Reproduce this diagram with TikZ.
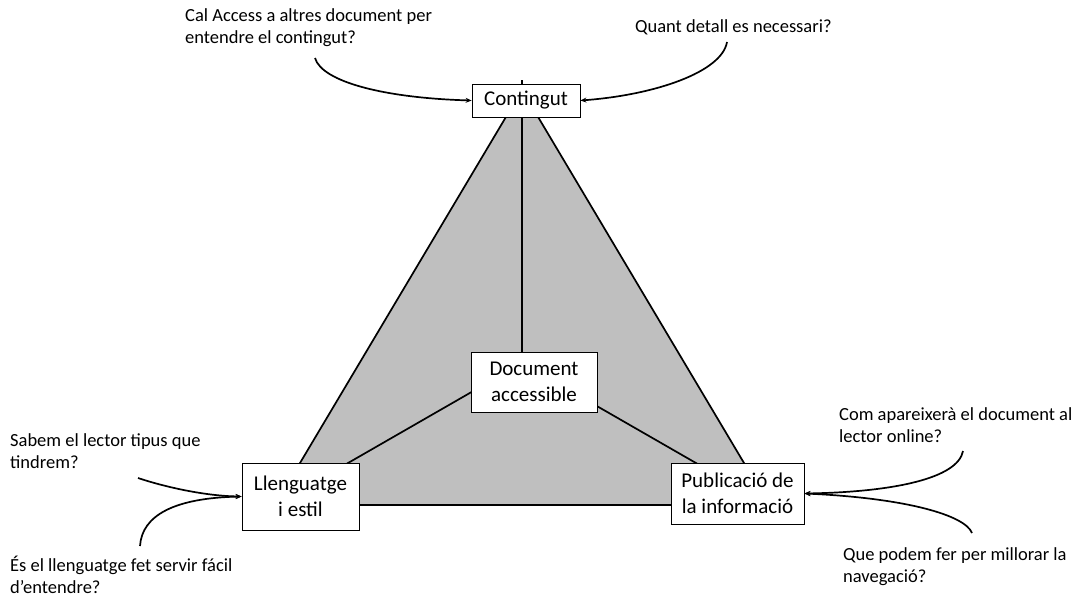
\documentclass[tikz,border=0pt]{standalone}
\usepackage{fontspec}
\setmainfont{Carlito}
\usepackage{tikz}
\usetikzlibrary{arrows.meta,backgrounds}
\definecolor{trianglegray}{HTML}{BFBFBF}
\tikzset{
	% ---- default
	every path/.style={line width=0.3pt},
	every node/.style={font=\fontsize{18.5}{22}\selectfont},
	% ---- custom
	topic/.style={draw, line width=0.8pt, fill=white, align=center,
		inner sep=0pt, font=\fontsize{21}{25.5}\selectfont},
	question/.style={align=left, inner sep=0pt, anchor=base west},
	spoke/.style={line width=1.7pt},
	ask/.style={line width=1.7pt, -{Stealth[length=6pt,width=5pt]}},
}

\begin{document}
\begin{tikzpicture}[x=1pt,y=-1pt]

	\useasboundingbox (0,0) rectangle (1081,597);

% coordinates %{{{2

	\coordinate (apex) at (522,90);
	\coordinate (tip) at (522,80);
	\coordinate (left) at (275,505);
	\coordinate (right) at (769,505);
	\coordinate (ctr) at (522,363);

% topics %{{{2

	\node[topic, minimum width=108pt, minimum height=33pt] (cont) at (526,100.5) {Contingut};
	\node[topic, minimum width=126pt, minimum height=60pt] (doc) at (534,382) {Document\\accessible};
	\node[topic, minimum width=117pt, minimum height=67pt] (llen) at (300.5,496.5) {Llenguatge\\i estil};
	\node[topic, minimum width=133pt, minimum height=61pt] (publ) at (737.5,493.5) {Publicació de\\la informació};

% triangle %{{{2

	\begin{scope}[on background layer]
	\fill[trianglegray] (apex) -- (left) -- (right) -- cycle;
	\draw[spoke, line join=round] (apex) -- (left) -- (right) -- cycle;
	\draw[spoke] (ctr) -- (tip);
	\draw[spoke] (ctr) -- (left);
	\draw[spoke] (ctr) -- (right);
	\end{scope}

% questions (anchored on the last line) %{{{2

	\node[question] (qcal) at (185,43) {Cal Access a altres document per\\entendre el contingut?};
	\node[question] (qquant) at (635,32) {Quant detall es necessari?};
	\node[question] (qsabem) at (10,468) {Sabem el lector tipus que\\tindrem?};
	\node[question] (qes) at (10,593) {És el llenguatge fet servir fácil\\d’entendre?};
	\node[question] (qcom) at (839,442) {Com apareixerà el document al\\lector online?};
	\node[question] (qque) at (843,582) {Que podem fer per millorar la\\navegació?};

% arrow tails %{{{2

	\coordinate (tcal) at (315,58);
	\coordinate (tquant) at (727,42);
	\coordinate (tsabem) at (138,478);
	\coordinate (tes) at (140,546);
	\coordinate (tcom) at (963,451);
	\coordinate (tque) at (972,533);

% arrows %{{{2

	\draw[ask] (tcal) .. controls (322,82) and (385,98) .. (cont.west);
	\draw[ask] (tquant) .. controls (722,72) and (655,95) .. (cont.east);
	\draw[ask] (tsabem) .. controls (165,487) and (205,496) .. (llen.west);
	\draw[ask] (tes) .. controls (142,515) and (175,498) .. (llen.west);
	\draw[ask] (tcom) .. controls (958,478) and (895,492) .. (publ.east);
	\draw[ask] (tque) .. controls (965,515) and (905,498) .. (publ.east);

% closing %{{{2

\end{tikzpicture}
\end{document}
